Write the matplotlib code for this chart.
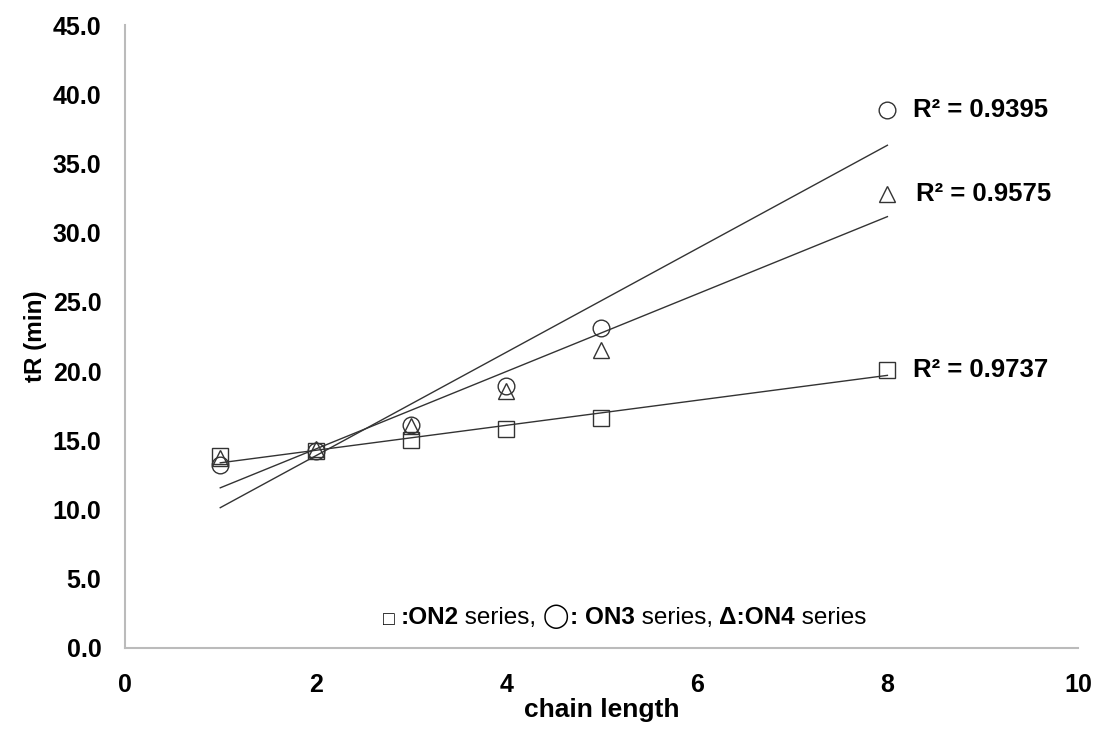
import numpy as np
import matplotlib.pyplot as plt

plt.rcParams['font.family'] = ['Liberation Sans', 'DejaVu Sans']

# data
chain_length = [1, 2, 3, 4, 5, 8]
on2 = [13.9, 14.2, 15.0, 15.8, 16.6, 20.1]
on3 = [13.2, 14.2, 16.1, 18.9, 23.1, 38.9]
on4 = [13.7, 14.4, 16.0, 18.6, 21.5, 32.8]
r2_labels = ['R² = 0.9737', 'R² = 0.9395', 'R² = 0.9575']

fig = plt.figure(figsize=(10.98, 7.38), dpi=100)
ax = fig.add_axes([0.1138, 0.122, 0.868, 0.844])

x = np.array(chain_length)
series = [(on2, 's'), (on3, 'o'), (on4, '^')]
for y, m in series:
    ax.plot(x, y, linestyle='none', marker=m, markersize=12,
            markerfacecolor='none', markeredgecolor='#333333', markeredgewidth=1.0)
for y, m in series:
    k, b = np.polyfit(x, y, 1)
    xs = np.array([1, 8])
    ax.plot(xs, k * xs + b, color='#333333', linewidth=1.0)

for y, lab, dx in zip([on2, on3, on4], r2_labels, [0.27, 0.27, 0.30]):
    ax.text(8 + dx, y[-1], lab, fontsize=18.5, fontweight='bold', va='center', ha='left')

ax.set_xlim(0, 10)
ax.set_ylim(0, 45)
ax.set_xticks([0, 2, 4, 6, 8, 10])
ax.set_yticks(np.arange(0, 46, 5))
ax.set_yticklabels([f'{v:.1f}' for v in np.arange(0, 46, 5)])
ax.tick_params(length=0, labelsize=18)
ax.tick_params(axis='x', pad=18)
ax.tick_params(axis='y', pad=17)
for lbl in ax.get_xticklabels() + ax.get_yticklabels():
    lbl.set_fontweight('bold')
ax.set_xlabel('chain length', fontsize=19, fontweight='bold', labelpad=1)
ax.set_ylabel('tR (min)', fontsize=17.5, fontweight='bold', labelpad=4)
for s in ['top', 'right']:
    ax.spines[s].set_visible(False)
for s in ['left', 'bottom']:
    ax.spines[s].set_color('#bbbbbb')
    ax.spines[s].set_linewidth(1.5)

# legend text with mixed bold pieces
pieces = [('□ ', 'normal', 14), (':ON2', 'bold', 17.5), (' series, ', 'normal', 17.5),
          ('◯', 'normal', 17), (': ON3', 'bold', 17.5), (' series, ', 'normal', 17.5),
          ('Δ:ON4', 'bold', 17.5), (' series', 'normal', 17.5)]
t = ax.text(0.271, 0.037, pieces[0][0], transform=ax.transAxes, fontsize=pieces[0][2],
            fontweight=pieces[0][1], va='baseline')
for txt, w, fs in pieces[1:]:
    t = ax.annotate(txt, xy=(1, 0), xycoords=t, fontsize=fs, fontweight=w,
                    va='bottom', ha='left')

fig.savefig('out.png', dpi=100)
